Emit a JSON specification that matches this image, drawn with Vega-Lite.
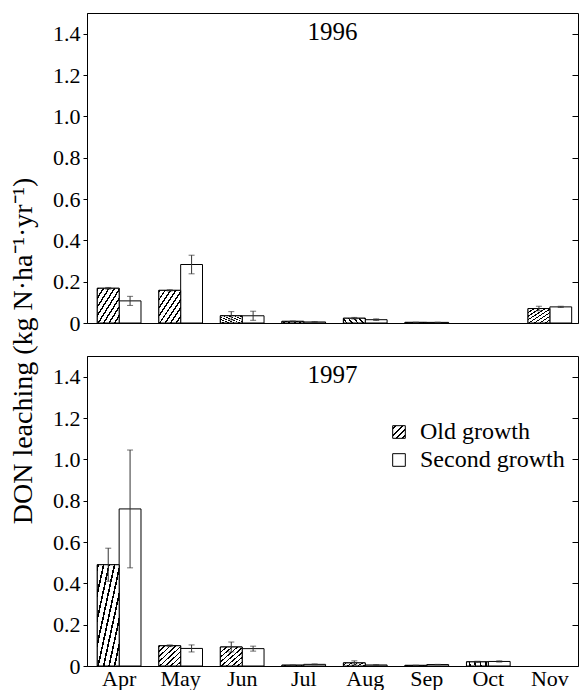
{
  "$schema": "https://vega.github.io/schema/vega-lite/v6.json",
  "padding": {"left": 9, "top": 12, "right": 0, "bottom": 0},
  "title": {"text": "DON leaching (kg N·ha⁻¹·yr⁻¹)", "orient": "left", "anchor": "middle", "font": "Times New Roman", "fontSize": 28, "fontWeight": "normal", "color": "black", "offset": 14},
  "config": {
    "view": {"stroke": "black", "strokeWidth": 1},
    "axis": {"labelColor": "black", "titleColor": "black", "domainColor": "black", "tickColor": "black", "grid": false, "labelFont": "Times New Roman"},
    "axisX": {"title": null, "ticks": false, "domain": false, "labelPadding": 2, "labelAngle": 0, "labelFontSize": 22},
    "axisY": {"labelFontSize": 22},
    "text": {"font": "Times New Roman"}
  },
  "datasets": {"d": [
    {"year": "1996", "month": "Apr", "forest": "Old growth", "value": 0.168, "err": 0.004},
    {"year": "1996", "month": "Apr", "forest": "Second growth", "value": 0.107, "err": 0.022},
    {"year": "1996", "month": "May", "forest": "Old growth", "value": 0.158, "err": 0.003},
    {"year": "1996", "month": "May", "forest": "Second growth", "value": 0.283, "err": 0.045},
    {"year": "1996", "month": "Jun", "forest": "Old growth", "value": 0.035, "err": 0.02},
    {"year": "1996", "month": "Jun", "forest": "Second growth", "value": 0.035, "err": 0.022},
    {"year": "1996", "month": "Jul", "forest": "Old growth", "value": 0.008, "err": 0.002},
    {"year": "1996", "month": "Jul", "forest": "Second growth", "value": 0.005, "err": 0.002},
    {"year": "1996", "month": "Aug", "forest": "Old growth", "value": 0.023, "err": 0.004},
    {"year": "1996", "month": "Aug", "forest": "Second growth", "value": 0.016, "err": 0.004},
    {"year": "1996", "month": "Sep", "forest": "Old growth", "value": 0.003, "err": 0.001},
    {"year": "1996", "month": "Sep", "forest": "Second growth", "value": 0.003, "err": 0.001},
    {"year": "1996", "month": "Nov", "forest": "Old growth", "value": 0.07, "err": 0.011},
    {"year": "1996", "month": "Nov", "forest": "Second growth", "value": 0.078, "err": 0.003},
    {"year": "1997", "month": "Apr", "forest": "Old growth", "value": 0.49, "err": 0.08},
    {"year": "1997", "month": "Apr", "forest": "Second growth", "value": 0.76, "err": 0.285},
    {"year": "1997", "month": "May", "forest": "Old growth", "value": 0.098, "err": 0.004},
    {"year": "1997", "month": "May", "forest": "Second growth", "value": 0.085, "err": 0.017},
    {"year": "1997", "month": "Jun", "forest": "Old growth", "value": 0.092, "err": 0.024},
    {"year": "1997", "month": "Jun", "forest": "Second growth", "value": 0.084, "err": 0.012},
    {"year": "1997", "month": "Jul", "forest": "Old growth", "value": 0.004, "err": 0.001},
    {"year": "1997", "month": "Jul", "forest": "Second growth", "value": 0.008, "err": 0.002},
    {"year": "1997", "month": "Aug", "forest": "Old growth", "value": 0.015, "err": 0.01},
    {"year": "1997", "month": "Aug", "forest": "Second growth", "value": 0.005, "err": 0.002},
    {"year": "1997", "month": "Sep", "forest": "Old growth", "value": 0.003, "err": 0.001},
    {"year": "1997", "month": "Sep", "forest": "Second growth", "value": 0.007, "err": 0.001},
    {"year": "1997", "month": "Oct", "forest": "Old growth", "value": 0.02, "err": 0.003},
    {"year": "1997", "month": "Oct", "forest": "Second growth", "value": 0.022, "err": 0.003}
  ]},
  "data": {"name": "d"},
  "spacing": 20,
  "resolve": {"scale": {"fill": "independent"}, "legend": {"fill": "independent"}},
  "vconcat": [
    {
      "width": 491,
      "height": 310,
      "transform": [{"filter": "datum.year === '1996'"}],
      "layer": [
        {
          "mark": {"type": "bar", "stroke": "black", "strokeWidth": 1, "fill": "white"},
          "encoding": {
            "x": {"field": "month", "type": "nominal", "sort": ["Apr", "May", "Jun", "Jul", "Aug", "Sep", "Oct", "Nov"],
                  "scale": {"domain": ["Apr", "May", "Jun", "Jul", "Aug", "Sep", "Oct", "Nov"], "paddingInner": 0.29, "paddingOuter": 0.135, "align": 0.62},
                  "axis": null},
            "xOffset": {"field": "forest", "type": "nominal", "scale": {"domain": ["Old growth", "Second growth"], "paddingInner": 0, "paddingOuter": 0}},
            "y": {"field": "value", "type": "quantitative",
                  "scale": {"domain": [0, 1.5], "nice": false, "zero": true},
                  "axis": {"title": null, "labelFont": "Times New Roman", "labelFontSize": 22, "labelColor": "black", "tickSize": 4, "labelPadding": 3,
                           "values": [0, 0.2, 0.4, 0.6, 0.8, 1.0, 1.2, 1.4],
                           "labelExpr": "datum.value == 0 ? '0' : format(datum.value, '.1f')"}}
          }
        },
        {
          "transform": [{"filter": "datum.forest === 'Old growth'"}],
          "mark": {"type": "bar", "stroke": "black", "strokeWidth": 1,
                   "fill": {"gradient": "linear", "x1": 0, "y1": 0, "x2": 1, "y2": 1, "stops": [
                     {"offset": 0, "color": "#000"}, {"offset": 0.0375, "color": "#000"}, {"offset": 0.0375, "color": "#fff"}, {"offset": 0.125, "color": "#fff"},
                     {"offset": 0.125, "color": "#000"}, {"offset": 0.1625, "color": "#000"}, {"offset": 0.1625, "color": "#fff"}, {"offset": 0.25, "color": "#fff"},
                     {"offset": 0.25, "color": "#000"}, {"offset": 0.2875, "color": "#000"}, {"offset": 0.2875, "color": "#fff"}, {"offset": 0.375, "color": "#fff"},
                     {"offset": 0.375, "color": "#000"}, {"offset": 0.4125, "color": "#000"}, {"offset": 0.4125, "color": "#fff"}, {"offset": 0.5, "color": "#fff"},
                     {"offset": 0.5, "color": "#000"}, {"offset": 0.5375, "color": "#000"}, {"offset": 0.5375, "color": "#fff"}, {"offset": 0.625, "color": "#fff"},
                     {"offset": 0.625, "color": "#000"}, {"offset": 0.6625, "color": "#000"}, {"offset": 0.6625, "color": "#fff"}, {"offset": 0.75, "color": "#fff"},
                     {"offset": 0.75, "color": "#000"}, {"offset": 0.7875, "color": "#000"}, {"offset": 0.7875, "color": "#fff"}, {"offset": 0.875, "color": "#fff"},
                     {"offset": 0.875, "color": "#000"}, {"offset": 0.9125, "color": "#000"}, {"offset": 0.9125, "color": "#fff"}, {"offset": 1, "color": "#fff"}]}},
          "encoding": {
            "x": {"field": "month", "type": "nominal", "sort": ["Apr", "May", "Jun", "Jul", "Aug", "Sep", "Oct", "Nov"]},
            "xOffset": {"field": "forest", "type": "nominal"},
            "y": {"field": "value", "type": "quantitative", "axis": null}
          }
        },
        {
          "mark": {"type": "errorbar", "color": "#333", "thickness": 1, "ticks": {"size": 6, "thickness": 1}},
          "encoding": {
            "x": {"field": "month", "type": "nominal", "sort": ["Apr", "May", "Jun", "Jul", "Aug", "Sep", "Oct", "Nov"]},
            "xOffset": {"field": "forest", "type": "nominal"},
            "y": {"field": "value", "type": "quantitative",
                  "axis": {"orient": "right", "labels": false, "title": null, "domain": false, "tickSize": -6,
                           "values": [0, 0.2, 0.4, 0.6, 0.8, 1.0, 1.2, 1.4]}},
            "yError": {"field": "err"}
          }
        },
        {
          "transform": [{"filter": "datum.forest === 'Old growth' && datum.month === 'May'"}],
          "mark": {"type": "text", "fontSize": 25, "baseline": "middle", "align": "center", "color": "black", "font": "Times New Roman"},
          "encoding": {
            "text": {"field": "year", "type": "nominal"},
            "y": {"datum": 1.41, "type": "quantitative", "axis": null}
          }
        }
      ],
      "resolve": {"axis": {"y": "independent"}}
    },
    {
      "width": 491,
      "height": 310,
      "transform": [{"filter": "datum.year === '1997'"}],
      "layer": [
        {
          "mark": {"type": "bar", "stroke": "black", "strokeWidth": 1},
          "encoding": {
            "x": {"field": "month", "type": "nominal", "sort": ["Apr", "May", "Jun", "Jul", "Aug", "Sep", "Oct", "Nov"],
                  "scale": {"domain": ["Apr", "May", "Jun", "Jul", "Aug", "Sep", "Oct", "Nov"], "paddingInner": 0.29, "paddingOuter": 0.135, "align": 0.62},
                  "axis": {"labelFont": "Times New Roman", "labelFontSize": 22, "labelColor": "black"}},
            "xOffset": {"field": "forest", "type": "nominal", "scale": {"domain": ["Old growth", "Second growth"], "paddingInner": 0, "paddingOuter": 0}},
            "y": {"field": "value", "type": "quantitative",
                  "scale": {"domain": [0, 1.5], "nice": false, "zero": true},
                  "axis": {"title": null, "labelFont": "Times New Roman", "labelFontSize": 22, "labelColor": "black", "tickSize": 4, "labelPadding": 3,
                           "values": [0, 0.2, 0.4, 0.6, 0.8, 1.0, 1.2, 1.4],
                           "labelExpr": "datum.value == 0 ? '0' : format(datum.value, '.1f')"}},
            "fill": {"field": "forest", "type": "nominal",
                     "scale": {"domain": ["Old growth", "Second growth"],
                               "range": [{"expr": "{gradient: 'linear', x1: 0, y1: 0, x2: 1, y2: 1, stops: [{offset: 0, color: '#fff'}, {offset: 0.1, color: '#fff'}, {offset: 0.1, color: '#000'}, {offset: 0.175, color: '#000'}, {offset: 0.175, color: '#fff'}, {offset: 0.35, color: '#fff'}, {offset: 0.35, color: '#000'}, {offset: 0.425, color: '#000'}, {offset: 0.425, color: '#fff'}, {offset: 0.6, color: '#fff'}, {offset: 0.6, color: '#000'}, {offset: 0.675, color: '#000'}, {offset: 0.675, color: '#fff'}, {offset: 0.85, color: '#fff'}, {offset: 0.85, color: '#000'}, {offset: 0.925, color: '#000'}, {offset: 0.925, color: '#fff'}, {offset: 1, color: '#fff'}]}"}, "white"]},
                     "legend": {"title": null, "orient": "none", "legendX": 300, "legendY": 64, "padding": 0,
                                "labelFontSize": 24, "labelFont": "Times New Roman", "labelColor": "black", "labelOffset": 9,
                                "symbolType": "square", "symbolSize": 160, "symbolStrokeColor": "black", "symbolStrokeWidth": 1, "rowPadding": 4}}
          }
        },
        {
          "transform": [{"filter": "datum.forest === 'Old growth'"}],
          "mark": {"type": "bar", "stroke": "black", "strokeWidth": 1,
                   "fill": {"gradient": "linear", "x1": 0, "y1": 0, "x2": 1, "y2": 1, "stops": [
                     {"offset": 0, "color": "#000"}, {"offset": 0.0375, "color": "#000"}, {"offset": 0.0375, "color": "#fff"}, {"offset": 0.125, "color": "#fff"},
                     {"offset": 0.125, "color": "#000"}, {"offset": 0.1625, "color": "#000"}, {"offset": 0.1625, "color": "#fff"}, {"offset": 0.25, "color": "#fff"},
                     {"offset": 0.25, "color": "#000"}, {"offset": 0.2875, "color": "#000"}, {"offset": 0.2875, "color": "#fff"}, {"offset": 0.375, "color": "#fff"},
                     {"offset": 0.375, "color": "#000"}, {"offset": 0.4125, "color": "#000"}, {"offset": 0.4125, "color": "#fff"}, {"offset": 0.5, "color": "#fff"},
                     {"offset": 0.5, "color": "#000"}, {"offset": 0.5375, "color": "#000"}, {"offset": 0.5375, "color": "#fff"}, {"offset": 0.625, "color": "#fff"},
                     {"offset": 0.625, "color": "#000"}, {"offset": 0.6625, "color": "#000"}, {"offset": 0.6625, "color": "#fff"}, {"offset": 0.75, "color": "#fff"},
                     {"offset": 0.75, "color": "#000"}, {"offset": 0.7875, "color": "#000"}, {"offset": 0.7875, "color": "#fff"}, {"offset": 0.875, "color": "#fff"},
                     {"offset": 0.875, "color": "#000"}, {"offset": 0.9125, "color": "#000"}, {"offset": 0.9125, "color": "#fff"}, {"offset": 1, "color": "#fff"}]}},
          "encoding": {
            "x": {"field": "month", "type": "nominal", "sort": ["Apr", "May", "Jun", "Jul", "Aug", "Sep", "Oct", "Nov"]},
            "xOffset": {"field": "forest", "type": "nominal"},
            "y": {"field": "value", "type": "quantitative", "axis": null}
          }
        },
        {
          "mark": {"type": "errorbar", "color": "#333", "thickness": 1, "ticks": {"size": 6, "thickness": 1}},
          "encoding": {
            "x": {"field": "month", "type": "nominal", "sort": ["Apr", "May", "Jun", "Jul", "Aug", "Sep", "Oct", "Nov"]},
            "xOffset": {"field": "forest", "type": "nominal"},
            "y": {"field": "value", "type": "quantitative",
                  "axis": {"orient": "right", "labels": false, "title": null, "domain": false, "tickSize": -6,
                           "values": [0, 0.2, 0.4, 0.6, 0.8, 1.0, 1.2, 1.4]}},
            "yError": {"field": "err"}
          }
        },
        {
          "transform": [{"filter": "datum.forest === 'Old growth' && datum.month === 'May'"}],
          "mark": {"type": "text", "fontSize": 25, "baseline": "middle", "align": "center", "color": "black", "font": "Times New Roman"},
          "encoding": {
            "text": {"field": "year", "type": "nominal"},
            "y": {"datum": 1.41, "type": "quantitative", "axis": null}
          }
        }
      ],
      "resolve": {"axis": {"y": "independent"}}
    }
  ]
}
